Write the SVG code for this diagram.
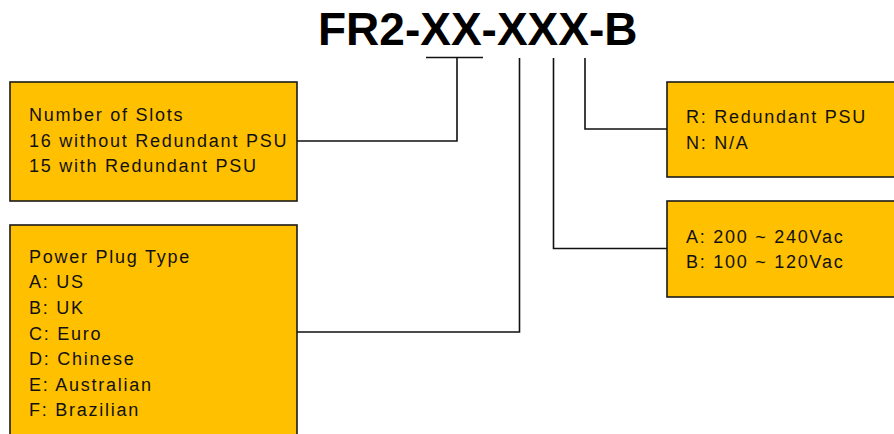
<svg xmlns="http://www.w3.org/2000/svg" width="894" height="434" viewBox="0 0 894 434">
<style>
.box{fill:#FFC000;stroke:#1a1a1a;stroke-width:1.6}
.t{font-family:"Liberation Sans",Arial,sans-serif;font-size:18px;letter-spacing:1.75px;fill:#111}
.title{font-family:"Liberation Sans",Arial,sans-serif;font-size:46px;font-weight:bold;fill:#000}
.c{fill:none;stroke:#111;stroke-width:1.6}
</style>
<rect width="894" height="434" fill="#fff"/>
<text class="title" x="318" y="45">FR2-XX-XXX-B</text>
<g id="connectors">
<line class="c" x1="426" y1="57.5" x2="483" y2="57.5"/>
<polyline class="c" points="297,141 457,141 457,57.5"/>
<polyline class="c" points="297,332 519.5,332 519.5,58"/>
<polyline class="c" points="667,248.5 553.5,248.5 553.5,58"/>
<polyline class="c" points="667,129 585,129 585,58"/>
</g>
<g id="slots">
<rect class="box" x="10" y="82" width="287" height="119"/>
<text class="t" x="29"><tspan x="29" y="121">Number of Slots</tspan><tspan x="29" y="146.5">16 without Redundant PSU</tspan><tspan x="29" y="172">15 with Redundant PSU</tspan></text>
</g>
<g id="plug">
<rect class="box" x="10" y="225" width="287" height="220"/>
<text class="t"><tspan x="29" y="263">Power Plug Type</tspan><tspan x="29" y="288">A: US</tspan><tspan x="29" y="314">B: UK</tspan><tspan x="29" y="339.5">C: Euro</tspan><tspan x="29" y="365">D: Chinese</tspan><tspan x="29" y="390.5">E: Australian</tspan><tspan x="29" y="416">F: Brazilian</tspan></text>
</g>
<g id="psu">
<rect class="box" x="667" y="82" width="240" height="95"/>
<text class="t"><tspan x="686" y="122.5">R: Redundant PSU</tspan><tspan x="686" y="148.5">N: N/A</tspan></text>
</g>
<g id="voltage">
<rect class="box" x="667" y="201" width="240" height="96"/>
<text class="t"><tspan x="686" y="243">A: 200 ~ 240Vac</tspan><tspan x="686" y="267.5">B: 100 ~ 120Vac</tspan></text>
</g>
</svg>
